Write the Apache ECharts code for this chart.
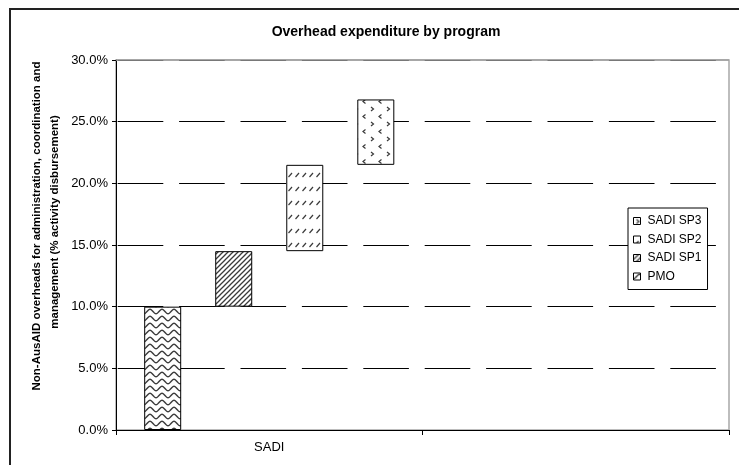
<!DOCTYPE html>
<html>
<head>
<meta charset="utf-8">
<script src="https://cdn.jsdelivr.net/npm/echarts@6/dist/echarts.min.js"></script>
<style>
  html, body { margin: 0; padding: 0; background: #fff; }
  #chart { width: 739px; height: 465px; }
</style>
</head>
<body>
<div id="chart"></div>
<script>
// Categories on the x axis (the second slot is left blank)
const categories = ['SADI', ''];
// Programs, in drawing order
const programs = ['PMO', 'SADI SP1', 'SADI SP2', 'SADI SP3'];
// Floating column for each program: where it starts and where it ends (% of activity disbursement)
const rangeLow  = [0.0, 10.0, 14.5, 21.5];
const rangeHigh = [10.0, 14.5, 21.5, 26.8];
// Y-axis ticks
const yTicks = [0, 5, 10, 15, 20, 25, 30];
// Legend order
const legendOrder = ['SADI SP3', 'SADI SP2', 'SADI SP1', 'PMO'];

const FONT = '"Liberation Sans", Arial, sans-serif';

// Hatch fills drawn on small tiles
function tile(w, h, draw) {
  const c = document.createElement('canvas');
  c.width = w; c.height = h;
  const g = c.getContext('2d');
  g.fillStyle = '#fff';
  g.fillRect(0, 0, w, h);
  g.strokeStyle = '#3a3a3a';
  g.fillStyle = '#3a3a3a';
  draw(g, w, h);
  return { image: c, repeat: 'repeat' };
}

const fills = {
  // wavy lines
  'PMO': tile(12, 7, (g, w, h) => {
    g.lineWidth = 1.4;
    g.beginPath();
    for (let x = -1; x <= w + 1; x += 0.5) {
      const y = 3.5 + 2.2 * Math.cos((x / w) * Math.PI * 2);
      if (x === -1) g.moveTo(x, y); else g.lineTo(x, y);
    }
    g.stroke();
  }),
  // dense diagonal lines
  'SADI SP1': tile(5, 5, (g, w, h) => {
    g.lineWidth = 1.3;
    g.beginPath();
    g.moveTo(-1, h + 1); g.lineTo(w + 1, -1);
    g.moveTo(-1 - w, h + 1); g.lineTo(1, -1);
    g.moveTo(w - 1, h + 1); g.lineTo(2 * w + 1, -1);
    g.stroke();
  }),
  // rows of short slashes
  'SADI SP2': tile(7, 14, (g, w, h) => {
    g.lineWidth = 1.2;
    g.beginPath();
    g.moveTo(1.5, 9); g.lineTo(5, 5);
    g.stroke();
  }),
  // scattered chevrons
  'SADI SP3': tile(16, 15, (g, w, h) => {
    g.lineWidth = 1.2;
    g.beginPath();
    // '>'
    g.moveTo(3, 2); g.lineTo(5.5, 4); g.lineTo(3, 6);
    // '<'
    g.moveTo(13.5, 9.5); g.lineTo(11, 11.5); g.lineTo(13.5, 13.5);
    g.stroke();
  })
};

const series = [];
programs.forEach((name, i) => {
  const stack = 'col' + i;
  const base = categories.map((c, k) => (k === 0 ? rangeLow[i] : null));
  const size = categories.map((c, k) => (k === 0 ? +(rangeHigh[i] - rangeLow[i]).toFixed(2) : null));
  // invisible offset that lifts the column
  series.push({
    name: '_base' + i,
    type: 'bar',
    stack: stack,
    data: base,
    barWidth: 37,
    barGap: '92%',
    silent: true,
    itemStyle: { color: 'rgba(0,0,0,0)', borderWidth: 0 },
    emphasis: { disabled: true }
  });
  series.push({
    name: name,
    type: 'bar',
    stack: stack,
    data: size,
    barWidth: 37,
    barGap: '92%',
    itemStyle: { color: fills[name], borderColor: '#000', borderWidth: 1 },
    emphasis: { disabled: true }
  });
});

const chart = echarts.init(document.getElementById('chart'), null, { renderer: 'canvas' });
chart.setOption({
  animation: false,
  backgroundColor: '#fff',
  textStyle: { fontFamily: FONT },
  title: {
    text: 'Overhead expenditure by program',
    left: 381,
    top: 20,
    textAlign: 'center',
    textStyle: { fontFamily: FONT, fontSize: 14, fontWeight: 'bold', color: '#000' }
  },
  grid: {
    left: 116, right: 10, top: 60, bottom: 35,
    show: true, borderColor: '#a8a8a8', borderWidth: 1.5, backgroundColor: '#fff'
  },
  legend: {
    data: legendOrder,
    orient: 'vertical',
    left: 628,
    top: 208,
    width: 78,
    padding: [7, 6, 7, 5],
    itemGap: 6.5,
    itemWidth: 7,
    itemHeight: 7,
    borderColor: '#000',
    borderWidth: 1,
    backgroundColor: '#fff',
    icon: 'rect',
    itemStyle: { borderColor: '#000', borderWidth: 1 },
    textStyle: { fontFamily: FONT, fontSize: 12, color: '#000', padding: [0, 0, 0, 2] },
    selectedMode: false
  },
  xAxis: {
    type: 'category',
    data: categories,
    boundaryGap: true,
    axisLine: { lineStyle: { color: '#000', width: 1 } },
    axisTick: { show: true, length: 5, lineStyle: { color: '#000' } },
    axisLabel: { fontFamily: FONT, fontSize: 13, color: '#000', margin: 11 },
    splitLine: { show: false }
  },
  yAxis: {
    type: 'value',
    min: yTicks[0],
    max: yTicks[yTicks.length - 1],
    interval: yTicks[1] - yTicks[0],
    axisLine: { show: true, lineStyle: { color: '#000', width: 1 } },
    axisTick: { show: true, length: 4, lineStyle: { color: '#000' } },
    axisLabel: {
      fontFamily: FONT, fontSize: 13, color: '#000', margin: 8,
      formatter: v => v.toFixed(1) + '%'
    },
    splitLine: {
      show: true,
      lineStyle: { color: '#000', width: 1, type: [45.6, 15.8], dashOffset: 59.7 }
    }
  },
  graphic: [
    {
      // solid top edge of the plot frame
      type: 'line',
      shape: { x1: 116, y1: 60, x2: 729, y2: 60 },
      style: { stroke: '#a0a0a0', lineWidth: 1.5 },
      silent: true,
      z: 5
    },
    {
      type: 'rect',
      shape: { x: 10, y: 9, width: 900, height: 600 },
      style: { fill: 'none', stroke: '#222', lineWidth: 2 },
      silent: true,
      z: 10
    },
    {
      type: 'text',
      x: 37, y: 226,
      rotation: Math.PI / 2,
      style: {
        text: 'Non-AusAID overheads for administration, coordination and',
        font: 'bold 11.5px ' + FONT,
        fill: '#000',
        align: 'center',
        verticalAlign: 'middle'
      }
    },
    {
      type: 'text',
      x: 55, y: 222,
      rotation: Math.PI / 2,
      style: {
        text: 'management (% activity disbursement)',
        font: 'bold 11.5px ' + FONT,
        fill: '#000',
        align: 'center',
        verticalAlign: 'middle'
      }
    }
  ],
  series: series
});
</script>
</body>
</html>
